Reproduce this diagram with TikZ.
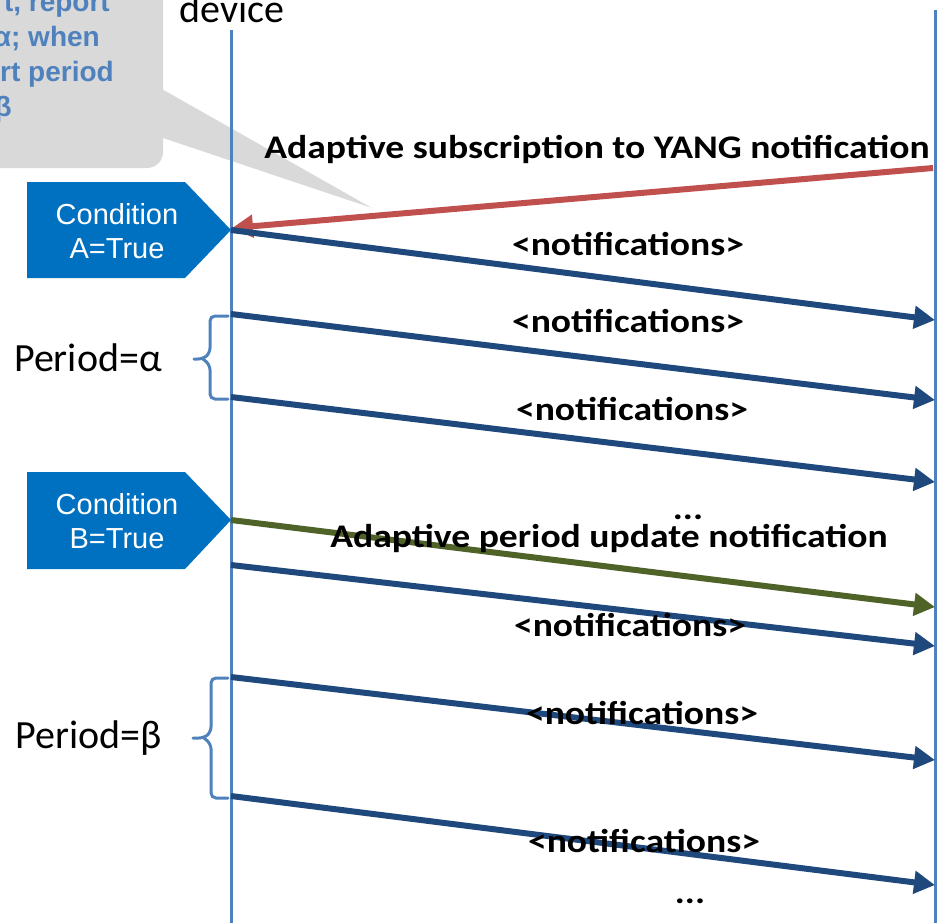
\documentclass[tikz,border=0pt]{standalone}
\usepackage{fontspec}
\setmainfont{Carlito}
\newfontfamily\arialf{Liberation Sans}
\newfontfamily\widecal[FakeStretch=1.14]{Carlito}
\usetikzlibrary{arrows.meta}
\definecolor{life}{HTML}{4F81BD}
\definecolor{msgblue}{HTML}{1F497D}
\definecolor{msgred}{HTML}{C0504D}
\definecolor{msggreen}{HTML}{4F6228}
\definecolor{condblue}{HTML}{0070C0}
\definecolor{callgray}{HTML}{D9D9D9}
\definecolor{calltext}{HTML}{4F81BD}
\begin{document}
\begin{tikzpicture}[x=1pt,y=-1pt,
  lifeline/.style={draw=life, line width=3pt},
  msg/.style={line width=6pt, -{Triangle[length=21pt,width=22pt]}},
  msglabel/.style={font=\widecal\fontsize{33}{38}\selectfont\bfseries, anchor=base, inner sep=0pt},
  bigtext/.style={font=\fontsize{40}{46}\selectfont, anchor=base, inner sep=0pt},
  condshape/.style={fill=condblue},
  condtext/.style={font=\arialf\fontsize{29}{34}\selectfont, text=white, align=center, inner sep=0pt},
  bracestyle/.style={draw=life, line width=3pt, rounded corners=5pt, line cap=round},
  calltxt/.style={font=\arialf\fontsize{28}{35}\selectfont\bfseries, text=calltext, anchor=base east, inner sep=0pt}
]
\useasboundingbox (0,0) rectangle (941,923);

% callout
\fill[callgray, rounded corners=16pt] (-40,-40) rectangle (163,168);
\fill[callgray] (160,88) -- (372,208) -- (160,137) -- cycle;
\node[calltxt] (c1) at (110,12) {t, report};
\node[calltxt] (c2) at (100,47) {α; when};
\node[calltxt] (c3) at (114,82) {rt period};
\node[calltxt] (c4) at (12,117) {β};

% lifelines
\coordinate (devtop) at (231,30);
\coordinate (devbot) at (231,923);
\coordinate (srvtop) at (935,10);
\coordinate (srvbot) at (935,923);
\draw[lifeline] (devtop) -- (devbot);
\draw[lifeline] (srvtop) -- (srvbot);
\node[bigtext] (device) at (232,23) {device};

% condition boxes
\fill[condshape] (27,182) -- (185,182) -- (231,230) -- (185,278) -- (27,278) -- cycle;
\node[condtext] (condA) at (117,231) {Condition\\A=True};
\fill[condshape] (27,472) -- (185,472) -- (231,520) -- (185,569) -- (27,569) -- cycle;
\node[condtext] (condB) at (117,521) {Condition\\B=True};

% braces
\draw[bracestyle] (228,316) -- (210,316) -- (210,353) -- (203,359) -- (194,359);
\draw[bracestyle] (203,359) -- (210,365) -- (210,399) -- (228,399);
\draw[bracestyle] (228,678) -- (211,678) -- (211,732) -- (204,738) -- (193,738);
\draw[bracestyle] (204,738) -- (211,744) -- (211,798) -- (228,798);
\node[bigtext] (pa) at (88,371) {Period=α};
\node[bigtext] (pb) at (89,748) {Period=β};

% message end points
\coordinate (r0) at (933,168);
\coordinate (r0e) at (232,228);
\coordinate (a1) at (231,230); \coordinate (b1) at (935,320);
\coordinate (a2) at (231,314); \coordinate (b2) at (935,400);
\coordinate (a3) at (231,397); \coordinate (b3) at (935,482);
\coordinate (g1) at (231,520); \coordinate (h1) at (935,607);
\coordinate (a4) at (231,565); \coordinate (b4) at (935,646);
\coordinate (a5) at (231,677); \coordinate (b5) at (935,760);
\coordinate (a6) at (231,796); \coordinate (b6) at (935,885);

\draw[msg, msgred] (r0) -- (r0e);
\draw[msg, msgblue] (a1) -- (b1);
\draw[msg, msgblue] (a2) -- (b2);
\draw[msg, msgblue] (a3) -- (b3);
\draw[msg, msggreen] (g1) -- (h1);
\draw[msg, msgblue] (a4) -- (b4);
\draw[msg, msgblue] (a5) -- (b5);
\draw[msg, msgblue] (a6) -- (b6);

% labels
\node[msglabel] (lsub) at (597,158) {Adaptive subscription to YANG notification};
\node[msglabel] (l1) at (628,255) {<notifications>};
\node[msglabel] (l2) at (628,332) {<notifications>};
\node[msglabel] (l3) at (632,420) {<notifications>};
\node[msglabel] (dots1) at (688,519) {...};
\node[msglabel] (lupd) at (609,547) {Adaptive period update notification};
\node[msglabel] (l4) at (630,636) {<notifications>};
\node[msglabel] (l5) at (642,724) {<notifications>};
\node[msglabel] (l6) at (644,852) {<notifications>};
\node[msglabel] (dots2) at (690,903) {...};
\end{tikzpicture}
\end{document}
